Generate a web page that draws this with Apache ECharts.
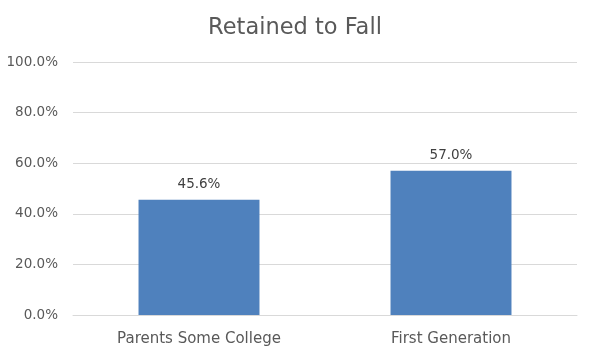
<!DOCTYPE html>
<html><head><meta charset="utf-8">
<script src="https://cdn.jsdelivr.net/npm/echarts@6/dist/echarts.min.js"></script>
<style>html,body{margin:0;padding:0;background:#fff}#c{width:590px;height:356px}</style>
</head><body><div id="c"></div>
<script>
const categories = ["Parents Some College", "First Generation"];
const values = [45.6, 57.0];
const yTicks = [0, 20, 40, 60, 80, 100];
const font = "'DejaVu Sans', sans-serif";
const chart = echarts.init(document.getElementById('c'));
chart.setOption({
  animation: false,
  title: { text: "Retained to Fall", left: 'center', top: 12,
    textStyle: { fontFamily: font, fontSize: 22.5, fontWeight: 'normal', color: '#595959' } },
  grid: { left: 73, right: 13, top: 62, bottom: 41 },
  xAxis: { type: 'category', data: categories,
    axisLine: { lineStyle: { color: '#d9d9d9' } }, axisTick: { show: false },
    axisLabel: { fontFamily: font, fontSize: 15, color: '#595959', margin: 17 } },
  yAxis: { type: 'value', min: yTicks[0], max: yTicks[yTicks.length-1], interval: 20,
    axisLine: { show: false }, axisTick: { show: false },
    splitLine: { lineStyle: { color: '#d9d9d9' } },
    axisLabel: { fontFamily: font, fontSize: 13.5, color: '#595959', margin: 15,
      formatter: v => v.toFixed(1) + '%' } },
  series: [{ type: 'bar', data: values, barWidth: '48%',
    itemStyle: { color: '#4F81BD' },
    label: { show: true, position: 'top', distance: 8, fontFamily: font, fontSize: 13.5, color: '#404040',
      formatter: p => p.value.toFixed(1) + '%' } }]
});
</script></body></html>
